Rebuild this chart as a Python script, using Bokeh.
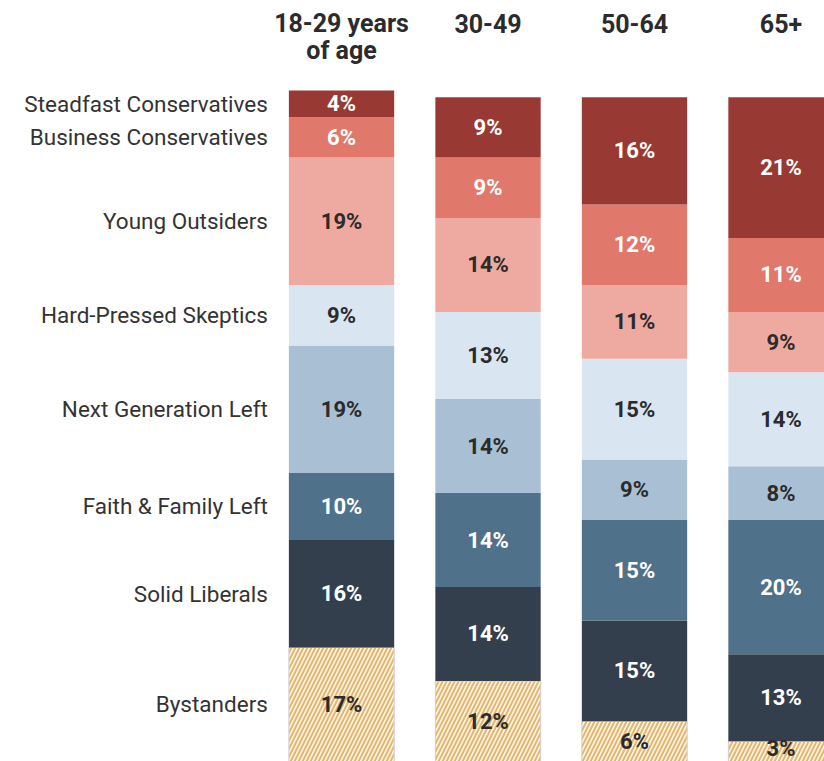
from bokeh.plotting import figure
from bokeh.models import ColumnDataSource, Range1d
from bokeh.core.properties import value
from bokeh.embed import file_html
from bokeh.resources import INLINE

# ---- data ----
groups = ["18-29 years", "30-49", "50-64", "65+"]
group_sub = ["of age", "", "", ""]
# segments from bottom to top
segments = ["Bystanders", "Solid Liberals", "Faith & Family Left", "Next Generation Left",
            "Hard-Pressed Skeptics", "Young Outsiders", "Business Conservatives",
            "Steadfast Conservatives"]
bystanders = [17, 12, 6, 3]
solid_liberals = [16, 14, 15, 13]
faith_family_left = [10, 14, 15, 20]
next_generation_left = [19, 14, 9, 8]
hard_pressed_skeptics = [9, 13, 15, 14]
young_outsiders = [19, 14, 11, 9]
business_conservatives = [6, 9, 12, 11]
steadfast_conservatives = [4, 9, 16, 21]

series = [bystanders, solid_liberals, faith_family_left, next_generation_left,
          hard_pressed_skeptics, young_outsiders, business_conservatives,
          steadfast_conservatives]
colors = ["#fbf6ea", "#333f4c", "#4f7189", "#a8bfd4", "#d9e5f0", "#eeaaa0", "#e0796b", "#983a33"]
text_colors = ["#2b2b2b", "#ffffff", "#ffffff", "#2b2b2b", "#2b2b2b", "#2b2b2b", "#ffffff", "#ffffff"]

DARK = "#2b2b2b"
FONT = value("Roboto")

p = figure(width=824, height=761, output_backend="svg", toolbar_location=None,
           x_range=Range1d(-2.328, 3.297), y_range=Range1d(0, 113.4),
           min_border=0, min_border_left=0, min_border_right=0,
           min_border_top=0, min_border_bottom=0)
p.axis.visible = False
p.grid.visible = False
p.outline_line_color = None
p.background_fill_color = "white"
p.border_fill_color = "white"

bw = 0.719
xs = list(range(len(groups)))
base = [0.0] * len(groups)
lab_x, lab_y, lab_t, lab_c = [], [], [], []
left_lab_y = []
for si, (name, vals) in enumerate(zip(segments, series)):
    bottoms = base[:]
    tops = [b + v for b, v in zip(bottoms, vals)]
    src = ColumnDataSource(dict(x=xs, bottom=bottoms, top=tops))
    if name == "Bystanders":
        p.vbar(x="x", bottom="bottom", top="top", width=bw, source=src,
               fill_color=colors[si], line_color="#cfcfcf", line_width=1,
               hatch_pattern="/", hatch_color="#e3b061", hatch_scale=8,
               hatch_weight=2.0, hatch_alpha=0.9)
    else:
        p.vbar(x="x", bottom="bottom", top="top", width=bw, source=src,
               fill_color=colors[si], line_color=None)
    for i, v in enumerate(vals):
        lab_x.append(xs[i])
        # keep labels of very short bottom segments inside the picture
        lab_y.append(max((bottoms[i] + tops[i]) / 2, 2.0))
        lab_t.append(f"{v}%")
        lab_c.append(text_colors[si])
    left_lab_y.append((bottoms[0] + tops[0]) / 2)
    base = tops

# percentage labels
p.text(x="x", y="y", text="t", text_color="c",
       source=ColumnDataSource(dict(x=lab_x, y=lab_y, t=lab_t, c=lab_c)),
       text_font=FONT, text_font_style="bold", text_font_size="22px",
       text_align="center", text_baseline="middle")

# category labels on the left of the first column
p.text(x=[xs[0] - bw / 2] * len(segments), y=left_lab_y, text=segments,
       x_offset=-21, text_font=FONT, text_font_size="22.5px", text_color="#333333",
       text_align="right", text_baseline="middle")

# column headers
p.text(x=xs, y=[110.0] * len(groups), text=groups,
       text_font=FONT, text_font_style="bold", text_font_size="25px",
       text_color=DARK, text_align="center", text_baseline="middle")
p.text(x=xs, y=[105.9] * len(groups), text=group_sub,
       text_font=FONT, text_font_style="bold", text_font_size="25px",
       text_color=DARK, text_align="center", text_baseline="middle")

open("out.html", "w").write(file_html(p, INLINE))
